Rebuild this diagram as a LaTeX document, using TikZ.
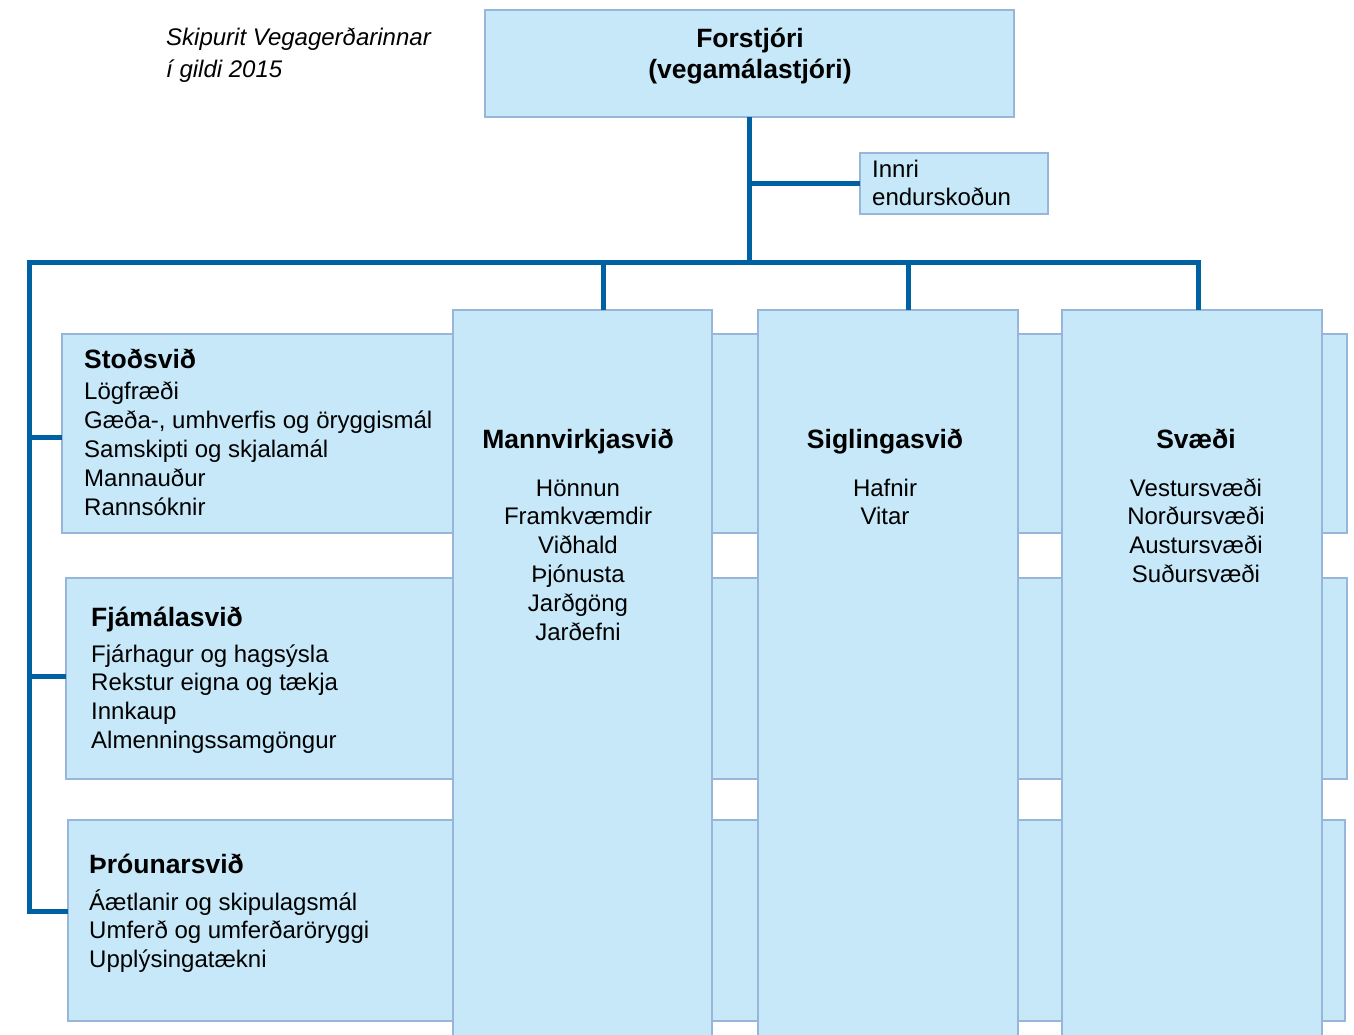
\documentclass[tikz,border=0pt]{standalone}
\usepackage{fontspec}
\setmainfont{Liberation Sans}
\definecolor{boxfill}{HTML}{C6E8F8}
\definecolor{boxline}{HTML}{98B5DA}
\definecolor{connblue}{HTML}{0061A2}
\begin{document}
\begin{tikzpicture}[x=1pt,y=-1pt,
  box/.style={draw=boxline, line width=2.4pt, fill=boxfill, inner sep=0pt, outer sep=0pt, anchor=north west},
  conn/.style={draw=connblue, line width=5pt, line join=miter},
  body/.style={font=\fontsize{24}{29}\selectfont, inner sep=0pt},
  head/.style={font=\bfseries\fontsize{26.5}{31}\selectfont, inner sep=0pt},
  titletext/.style={font=\itshape\fontsize{24}{29}\selectfont, inner sep=0pt, anchor=base west}]
\useasboundingbox (0,0) rectangle (1354,1034);
\clip (0,0) rectangle (1354,1034);

% row boxes (behind the columns)
\node[box, minimum width=1285pt, minimum height=199pt] (r1) at (62,334) {};
\node[box, minimum width=1281pt, minimum height=201pt] (r2) at (66,578) {};
\node[box, minimum width=1277pt, minimum height=201pt] (r3) at (68,820) {};

% columns
\node[box, minimum width=259pt, minimum height=780pt] (c1) at (453,310) {};
\node[box, minimum width=260pt, minimum height=780pt] (c2) at (758,310) {};
\node[box, minimum width=260pt, minimum height=780pt] (c3) at (1062,310) {};

% top boxes
\node[box, minimum width=529pt, minimum height=107pt] (top) at (485,10) {};
\node[box, minimum width=188pt, minimum height=61pt] (ir) at (860,153) {};

% connectors
\coordinate (bar) at (750,262);
\coordinate (lc) at (29.5,262);
\coordinate (d1) at (603,310);
\coordinate (d2) at (908,310);
\coordinate (d3) at (1198,310);
\coordinate (b1) at (62,437);
\coordinate (b2) at (66,676);
\coordinate (b3) at (68,911);
\draw[conn] (top.south) -- (top.south |- bar);
\draw[conn] (top.south |- ir.west) -- (ir.west);
\draw[conn] (d3) -- (d3 |- bar) -- (lc) -- (lc |- b3) -- (b3);
\draw[conn] (d1) -- (d1 |- bar);
\draw[conn] (d2) -- (d2 |- bar);
\draw[conn] (lc |- b1) -- (b1);
\draw[conn] (lc |- b2) -- (b2);

% title
\node[titletext] (t1) at (166,45) {Skipurit Vegagerðarinnar};
\node[titletext] (t2) at (166,77) {í gildi 2015};

% top box text
\node[head, anchor=base] (f1) at (750,47) {Forstjóri};
\node[head, anchor=base] (f2) at (750,78) {(vegamálastjóri)};

% Innri endurskoðun
\node[body, anchor=base west] (ir1) at (872,177) {Innri};
\node[body, anchor=base west] (ir2) at (872,205) {endurskoðun};

% Stoðsvið
\node[head, anchor=base west] (sh) at (84,368) {Stoðsvið};
\foreach \t [count=\i] in {Lögfræði,{Gæða-, umhverfis og öryggismál},Samskipti og skjalamál,Mannauður,Rannsóknir}
  \node[body, anchor=base west] (s\i) at (84,{399+29*(\i-1)}) {\t};

% Fjámálasvið
\node[head, anchor=base west] (fh) at (91,626) {Fjámálasvið};
\foreach \t [count=\i] in {Fjárhagur og hagsýsla,Rekstur eigna og tækja,Innkaup,Almenningssamgöngur}
  \node[body, anchor=base west] (fj\i) at (91,{662+28.8*(\i-1)}) {\t};

% Þróunarsvið
\node[head, anchor=base west] (ph) at (89,873) {Þróunarsvið};
\foreach \t [count=\i] in {Áætlanir og skipulagsmál,Umferð og umferðaröryggi,Upplýsingatækni}
  \node[body, anchor=base west] (p\i) at (89,{910+28.5*(\i-1)}) {\t};

% Mannvirkjasvið
\node[head, anchor=base] (mh) at (578,448) {Mannvirkjasvið};
\foreach \t [count=\i] in {Hönnun,Framkvæmdir,Viðhald,Þjónusta,Jarðgöng,Jarðefni}
  \node[body, anchor=base] (m\i) at (578,{496+28.8*(\i-1)}) {\t};

% Siglingasvið
\node[head, anchor=base] (gh) at (885,448) {Siglingasvið};
\foreach \t [count=\i] in {Hafnir,Vitar}
  \node[body, anchor=base] (g\i) at (885,{496+28.8*(\i-1)}) {\t};

% Svæði
\node[head, anchor=base] (vh) at (1196,448) {Svæði};
\foreach \t [count=\i] in {Vestursvæði,Norðursvæði,Austursvæði,Suðursvæði}
  \node[body, anchor=base] (v\i) at (1196,{496+28.8*(\i-1)}) {\t};
\end{tikzpicture}
\end{document}
